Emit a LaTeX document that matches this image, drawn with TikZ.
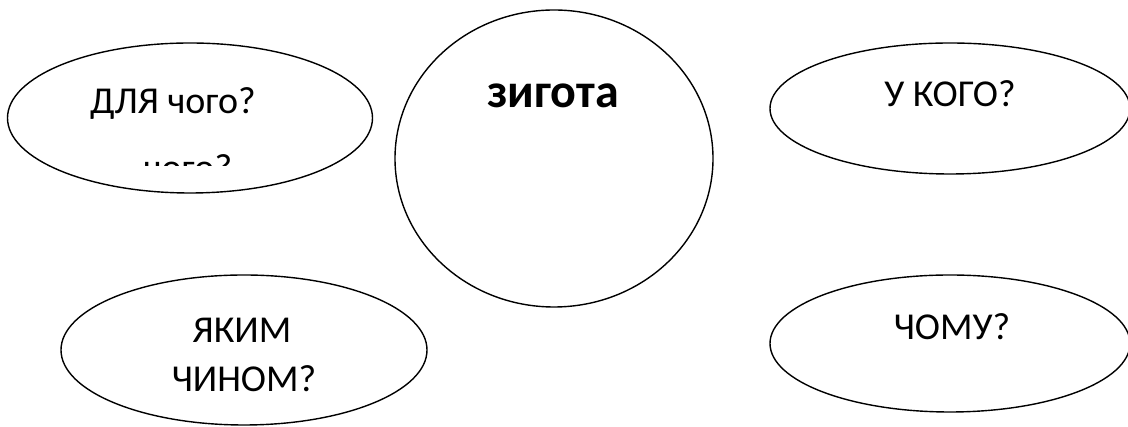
\documentclass[tikz,border=0pt]{standalone}
\usepackage{fontspec}
\setmainfont{Carlito}
\usetikzlibrary{shapes.geometric}
\tikzset{
  bubble/.style={draw=black, line width=1.4pt, ellipse, inner sep=0pt, outer sep=0pt, fill=none},
  qlabel/.style={inner sep=0pt, anchor=base, font=\fontsize{38}{46}\selectfont},
  mainlabel/.style={inner sep=0pt, anchor=base, font=\fontsize{48}{58}\selectfont\bfseries}
}
\begin{document}
\begin{tikzpicture}[x=1pt,y=1pt]
\useasboundingbox (0,0) rectangle (1128,427);
\clip (0,0) rectangle (1128,427);
% ellipses
\node[bubble, minimum width=365pt, minimum height=150pt] (tl) at (190,309) {};
\node[bubble, minimum width=318pt, minimum height=297pt] (zyg) at (554,268.5) {};
\node[bubble, minimum width=360pt, minimum height=131pt] (tr) at (950,318.5) {};
\node[bubble, minimum width=366pt, minimum height=150pt] (bl) at (244,77) {};
\node[bubble, minimum width=360pt, minimum height=137pt] (br) at (950,83.5) {};
% labels
\node[qlabel] (tlt) at (173,313) {ДЛЯ чого?};
\begin{scope}
  \clip (0,261) rectangle (400,300);
  \node[qlabel] (tlc) at (188,246) {чого?};
\end{scope}
\node[mainlabel] (zygt) at (553,319) {зигота};
\node[qlabel] (trt) at (950,320) {У КОГО?};
\node[qlabel] (blt1) at (242,84) {ЯКИМ};
\node[qlabel] (blt2) at (244,35) {ЧИНОМ?};
\node[qlabel] (brt) at (952,87) {ЧОМУ?};
\end{tikzpicture}
\end{document}
